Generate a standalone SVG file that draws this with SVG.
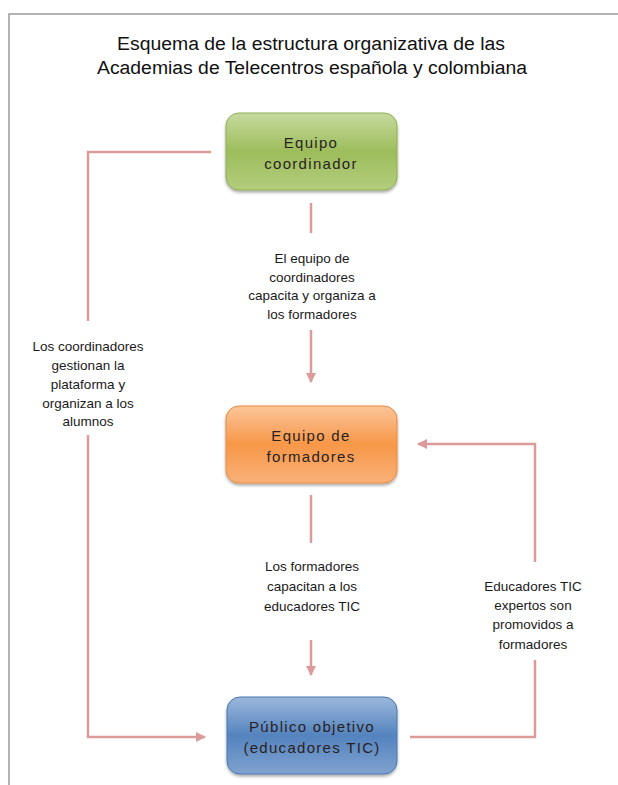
<svg xmlns="http://www.w3.org/2000/svg" width="618" height="785" viewBox="0 0 618 785">
<style>
.title{font-family:"Liberation Sans",Arial,sans-serif;font-size:18px;fill:#111;text-anchor:middle}
.box{font-family:"Liberation Sans",Arial,sans-serif;font-size:15px;fill:#2a1f1f;text-anchor:middle;letter-spacing:1.3px}
.lbl{font-family:"Liberation Sans",Arial,sans-serif;font-size:13.5px;fill:#1a1a1a;text-anchor:middle}
.con{fill:none;stroke:#dc9b9b;stroke-width:2.5}
</style>
<defs>
<linearGradient id="gG" x1="0" y1="0" x2="0" y2="1">
<stop offset="0" stop-color="#c6da9f"/><stop offset="0.5" stop-color="#9dbd5b"/><stop offset="1" stop-color="#b3cd7e"/>
</linearGradient>
<linearGradient id="gO" x1="0" y1="0" x2="0" y2="1">
<stop offset="0" stop-color="#fbc59a"/><stop offset="0.5" stop-color="#f79748"/><stop offset="1" stop-color="#f9b179"/>
</linearGradient>
<linearGradient id="gB" x1="0" y1="0" x2="0" y2="1">
<stop offset="0" stop-color="#9bb8db"/><stop offset="0.5" stop-color="#5483be"/><stop offset="1" stop-color="#7fa2cf"/>
</linearGradient>
<filter id="sh" x="-10%" y="-10%" width="120%" height="130%">
<feDropShadow dx="0" dy="2" stdDeviation="1.5" flood-color="#000" flood-opacity="0.35"/>
</filter>
<marker id="ar" viewBox="0 0 10 10" refX="9" refY="5" markerWidth="4" markerHeight="4" orient="auto" markerUnits="strokeWidth">
<path d="M0,0 L10,5 L0,10 z" fill="#dc9b9b"/>
</marker>
</defs>
<rect width="618" height="785" fill="#fff"/>
<path d="M9,785 V14 H618" fill="none" stroke="#9a9a9a" stroke-width="1.5"/>
<g id="title">
<text class="title" x="311" y="50" textLength="388" lengthAdjust="spacingAndGlyphs">Esquema de la estructura organizativa de las</text>
<text class="title" x="312" y="74" textLength="430" lengthAdjust="spacingAndGlyphs">Academias de Telecentros española y colombiana</text>
</g>
<g id="connectors">
<path class="con" d="M211,152 H88 V321"/>
<path class="con" d="M88,435 V737 H205" marker-end="url(#ar)"/>
<path class="con" d="M311,203 V233"/>
<path class="con" d="M311,330 V382" marker-end="url(#ar)"/>
<path class="con" d="M311,495 V543"/>
<path class="con" d="M311,640 V675" marker-end="url(#ar)"/>
<path class="con" d="M410,737 H535 V660"/>
<path class="con" d="M535,562 V444 H418" marker-end="url(#ar)"/>
</g>
<g id="lbl-left">
<text class="lbl" x="88" y="351">Los coordinadores</text>
<text class="lbl" x="88" y="370">gestionan la</text>
<text class="lbl" x="88" y="389">plataforma y</text>
<text class="lbl" x="88" y="408">organizan a los</text>
<text class="lbl" x="88" y="426">alumnos</text>
</g>
<g id="lbl-top">
<text class="lbl" x="312" y="263">El equipo de</text>
<text class="lbl" x="312" y="282">coordinadores</text>
<text class="lbl" x="312" y="300">capacita y organiza a</text>
<text class="lbl" x="312" y="319">los formadores</text>
</g>
<g id="lbl-mid">
<text class="lbl" x="312" y="571">Los formadores</text>
<text class="lbl" x="312" y="591">capacitan a los</text>
<text class="lbl" x="312" y="611">educadores TIC</text>
</g>
<g id="lbl-right">
<text class="lbl" x="533" y="591">Educadores TIC</text>
<text class="lbl" x="533" y="610">expertos son</text>
<text class="lbl" x="533" y="629">promovidos a</text>
<text class="lbl" x="533" y="649">formadores</text>
</g>
<g id="node-coordinador">
<rect x="226" y="113" width="171" height="77" rx="13" fill="url(#gG)" stroke="#8fae52" stroke-width="1" filter="url(#sh)"/>
<text class="box" x="311" y="148">Equipo</text>
<text class="box" x="311" y="169">coordinador</text>
</g>
<g id="node-formadores">
<rect x="226" y="406" width="171" height="77" rx="13" fill="url(#gO)" stroke="#e88a3e" stroke-width="1" filter="url(#sh)"/>
<text class="box" x="311" y="441">Equipo de</text>
<text class="box" x="311" y="462">formadores</text>
</g>
<g id="node-publico">
<rect x="227" y="697" width="170" height="77" rx="13" fill="url(#gB)" stroke="#4a78b0" stroke-width="1" filter="url(#sh)"/>
<text class="box" x="312" y="732">Público objetivo</text>
<text class="box" x="312" y="753">(educadores TIC)</text>
</g>
</svg>
